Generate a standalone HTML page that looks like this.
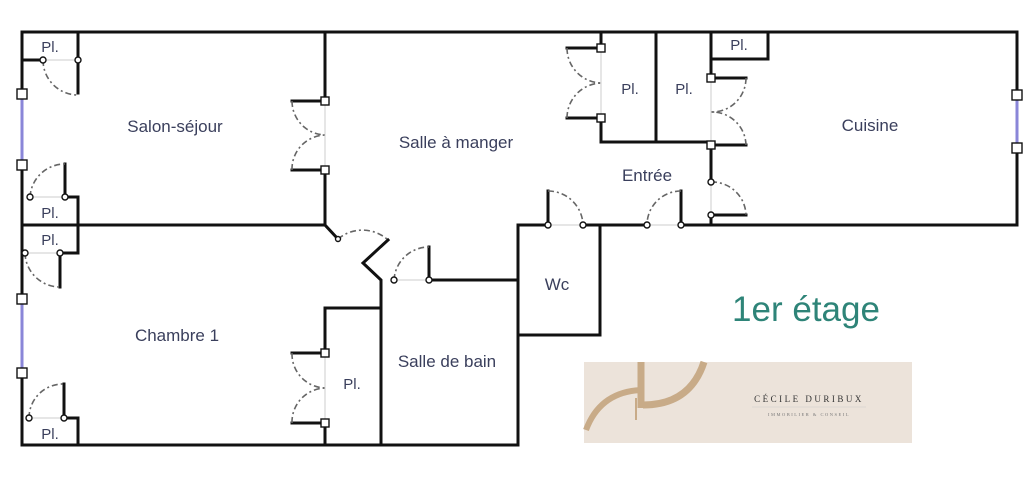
<!DOCTYPE html>
<html><head><meta charset="utf-8"><style>
html,body{margin:0;padding:0;background:#fff;width:1036px;height:484px;overflow:hidden}
svg{display:block}
text{font-family:"Liberation Sans",sans-serif;fill:#3a3f5c}
</style></head><body>
<svg width="1036" height="484" viewBox="0 0 1036 484" xmlns="http://www.w3.org/2000/svg">
<g stroke="#111" stroke-width="3" fill="none" stroke-linecap="square" stroke-linejoin="miter">
<polyline points="22,94 22,32 1017,32 1017,95"/>
<polyline points="1017,148 1017,225 681,225"/>
<line x1="22" y1="165" x2="22" y2="299"/>
<polyline points="22,373 22,445 518,445 518,225 548,225"/>
<line x1="583" y1="225" x2="647" y2="225"/>
<line x1="22" y1="60" x2="43" y2="60"/>
<line x1="78" y1="32" x2="78" y2="93"/>
<polyline points="65,164 65,197 78,197 78,225"/>
<line x1="22" y1="225" x2="325" y2="225"/>
<polyline points="78,225 78,253 60,253 60,287"/>
<polyline points="64,384 64,418 78,418 78,445"/>
<line x1="325" y1="32" x2="325" y2="101"/>
<polyline points="325,170 325,225 338,239"/>
<line x1="292" y1="101" x2="325" y2="101"/>
<line x1="292" y1="170" x2="325" y2="170"/>
<polyline points="388,240 363,263 381,280 381,445"/>
<line x1="429" y1="280" x2="518" y2="280"/>
<line x1="429" y1="247" x2="429" y2="280"/>
<polyline points="325,353 325,308 381,308"/>
<line x1="325" y1="423" x2="325" y2="445"/>
<line x1="292" y1="353" x2="325" y2="353"/>
<line x1="292" y1="423" x2="325" y2="423"/>
<polyline points="600,225 600,335 518,335"/>
<line x1="601" y1="32" x2="601" y2="48"/>
<polyline points="601,118 601,142 711,142"/>
<line x1="656" y1="32" x2="656" y2="142"/>
<polyline points="711,32 711,59 768,59 768,32"/>
<line x1="711" y1="59" x2="711" y2="78"/>
<line x1="711" y1="142" x2="711" y2="182"/>
<line x1="711" y1="215" x2="711" y2="225"/>
<line x1="567" y1="48" x2="601" y2="48"/>
<line x1="567" y1="118" x2="601" y2="118"/>
<line x1="711" y1="78" x2="746" y2="78"/>
<line x1="711" y1="145" x2="746" y2="145"/>
<line x1="711" y1="215" x2="746" y2="215"/>
<line x1="548" y1="191" x2="548" y2="225"/>
<line x1="681" y1="191" x2="681" y2="225"/>
</g>
<g stroke="#8a86d8" stroke-width="3">
<line x1="22" y1="94" x2="22" y2="165"/><line x1="22" y1="299" x2="22" y2="373"/><line x1="1017" y1="95" x2="1017" y2="148"/>
</g>
<g stroke="#666" stroke-width="1.6" fill="none" stroke-dasharray="6,3,2,3">
<path d="M43,60 A35,35 0 0 0 78,95"/>
<path d="M30,197 A35,35 0 0 1 65,164"/>
<path d="M25,253 A35,35 0 0 0 60,287"/>
<path d="M29,418 A34,34 0 0 1 64,384"/>
<path d="M292,101 A34,34 0 0 0 325,135"/>
<path d="M292,170 A34,34 0 0 1 325,135"/>
<path d="M292,353 A34,34 0 0 0 325,388"/>
<path d="M292,423 A34,34 0 0 1 325,388"/>
<path d="M338,239 A38,38 0 0 1 388,240"/>
<path d="M394,280 A35,35 0 0 1 429,247"/>
<path d="M548,191 A35,35 0 0 1 583,225"/>
<path d="M681,191 A34,34 0 0 0 647,225"/>
<path d="M567,48 A35,35 0 0 0 601,83"/>
<path d="M567,118 A35,35 0 0 1 601,83"/>
<path d="M746,78 A34,34 0 0 1 711,112"/>
<path d="M746,145 A34,34 0 0 0 711,112"/>
<path d="M711,182 A34,34 0 0 1 746,215"/>
</g>
<g stroke="#ccc" stroke-width="1">
<line x1="43" y1="60" x2="78" y2="60"/><line x1="30" y1="197" x2="65" y2="197"/>
<line x1="25" y1="253" x2="60" y2="253"/><line x1="29" y1="418" x2="64" y2="418"/>
<line x1="325" y1="101" x2="325" y2="170"/><line x1="325" y1="353" x2="325" y2="423"/>
<line x1="394" y1="280" x2="429" y2="280"/><line x1="548" y1="225" x2="583" y2="225"/>
<line x1="647" y1="225" x2="681" y2="225"/><line x1="601" y1="48" x2="601" y2="118"/>
<line x1="711" y1="78" x2="711" y2="142"/><line x1="711" y1="182" x2="711" y2="215"/>
</g>
<g fill="#fff" stroke="#111" stroke-width="1.4">
<rect x="17" y="89" width="10" height="10"/><rect x="17" y="160" width="10" height="10"/>
<rect x="17" y="294" width="10" height="10"/><rect x="17" y="368" width="10" height="10"/>
<rect x="1012" y="90" width="10" height="10"/><rect x="1012" y="143" width="10" height="10"/>
<rect x="321" y="97" width="8" height="8"/><rect x="321" y="166" width="8" height="8"/>
<rect x="321" y="349" width="8" height="8"/><rect x="321" y="419" width="8" height="8"/>
<rect x="597" y="44" width="8" height="8"/><rect x="597" y="114" width="8" height="8"/>
<rect x="707" y="74" width="8" height="8"/><rect x="707" y="141" width="8" height="8"/>
<circle cx="43" cy="60" r="3"/><circle cx="78" cy="60" r="3"/>
<circle cx="30" cy="197" r="3"/><circle cx="65" cy="197" r="3"/>
<circle cx="25" cy="253" r="3"/><circle cx="60" cy="253" r="3"/>
<circle cx="29" cy="418" r="3"/><circle cx="64" cy="418" r="3"/>
<circle cx="338" cy="239" r="2.5"/><circle cx="394" cy="280" r="3"/><circle cx="429" cy="280" r="3"/>
<circle cx="548" cy="225" r="3"/><circle cx="583" cy="225" r="3"/>
<circle cx="647" cy="225" r="3"/><circle cx="681" cy="225" r="3"/>
<circle cx="711" cy="182" r="3"/><circle cx="711" cy="215" r="3"/>
</g>
<g font-size="17">
<text x="175" y="132" text-anchor="middle">Salon-séjour</text>
<text x="456" y="148" text-anchor="middle">Salle à manger</text>
<text x="647" y="181" text-anchor="middle">Entrée</text>
<text x="870" y="131" text-anchor="middle">Cuisine</text>
<text x="557" y="290" text-anchor="middle">Wc</text>
<text x="177" y="341" text-anchor="middle">Chambre 1</text>
<text x="447" y="367" text-anchor="middle">Salle de bain</text>
<text x="352" y="389" text-anchor="middle" font-size="15">Pl.</text>
<text x="50" y="52" text-anchor="middle" font-size="15">Pl.</text>
<text x="50" y="218" text-anchor="middle" font-size="15">Pl.</text>
<text x="50" y="245" text-anchor="middle" font-size="15">Pl.</text>
<text x="50" y="439" text-anchor="middle" font-size="15">Pl.</text>
<text x="630" y="94" text-anchor="middle" font-size="15">Pl.</text>
<text x="684" y="94" text-anchor="middle" font-size="15">Pl.</text>
<text x="739" y="50" text-anchor="middle" font-size="15">Pl.</text>
</g>
<text x="806" y="321" text-anchor="middle" font-size="35" style="fill:#2e8478">1er étage</text>
<rect x="584" y="362" width="328" height="81" fill="#ece3da"/>
<g fill="none" stroke="#c8ab88">
<path d="M641,362 L641,408" stroke-width="7"/>
<path d="M643,405 Q690,405 704,362" stroke-width="7"/>
<path d="M641,390 Q600,392 586,430" stroke-width="6"/>
<line x1="636" y1="398" x2="636" y2="420" stroke-width="2"/>
</g>
<text x="809" y="402" text-anchor="middle" font-size="9" letter-spacing="2.5" style="font-family:'Liberation Serif',serif;fill:#333">CÉCILE DURIBUX</text>
<line x1="752" y1="407" x2="866" y2="407" stroke="#ccc" stroke-width="0.6"/>
<text x="809" y="416" text-anchor="middle" font-size="4.5" letter-spacing="1.5" style="font-family:'Liberation Serif',serif;fill:#777">IMMOBILIER &amp; CONSEIL</text>
</svg>
</body></html>
